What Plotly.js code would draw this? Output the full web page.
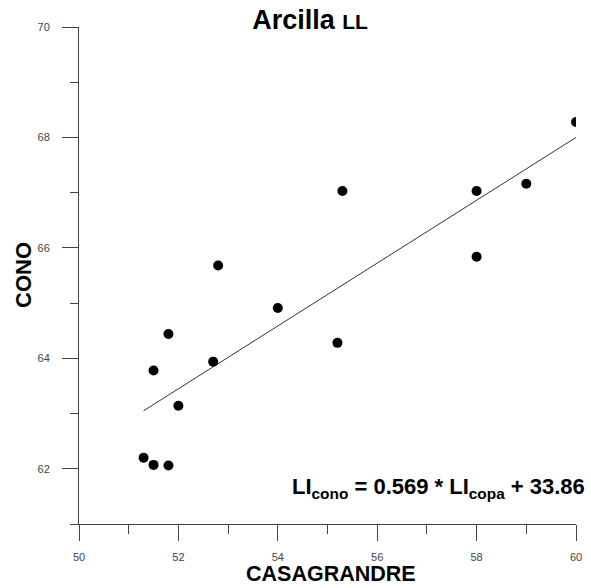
<!DOCTYPE html>
<html>
<head>
<meta charset="utf-8">
<script src="https://cdn.plot.ly/plotly-3.0.1.min.js"></script>
<style>html,body{margin:0;padding:0;background:#fff;}#chart{width:591px;height:588px;}</style>
</head>
<body>
<div id="chart"></div>
<script>
// Observed data (CASAGRANDRE vs CONO)
var casagrande = [51.3, 51.5, 51.8, 51.5, 51.8, 52.0, 52.7, 52.8, 54.0, 55.2, 55.3, 58.0, 58.0, 59.0, 60.0];
var cono       = [62.20, 62.07, 62.06, 63.78, 64.44, 63.14, 63.94, 65.68, 64.91, 64.28, 67.03, 67.03, 65.84, 67.16, 68.28];
// Regression line endpoints
var fitX = [51.3, 60.0];
var fitY = [63.05, 68.00];
var xTicks = [50, 52, 54, 56, 58, 60];
var yTicks = [62, 64, 66, 68, 70];

var FONT = 'Liberation Sans, Arial, sans-serif';
var axisColor = '#444';
var tickFont = {family: FONT, size: 11, color: '#444'};

var traces = [
  {x: fitX, y: fitY, mode: 'lines', type: 'scatter',
   line: {color: '#333', width: 1}, hoverinfo: 'skip'},
  {x: casagrande, y: cono, mode: 'markers', type: 'scatter',
   marker: {color: '#000', size: 10, line: {width: 0}}}
];

// plot area in pixels: left 79, right 576, top 27, bottom 524
var L = 79, R = 576, T = 27, B = 524;
function px(x) { return (x - L) / (R - L); }
function py(y) { return (B - y) / (B - T); }

var layout = {
  width: 591, height: 588,
  margin: {l: L, r: 591 - R, t: T, b: 588 - B, pad: 0},
  showlegend: false,
  paper_bgcolor: '#fff', plot_bgcolor: '#fff',
  title: {
    text: '<b>Arcilla</b> <b><span style="font-size:21px">LL</span></b>',
    font: {family: FONT, size: 27, color: '#000'},
    x: 310/591, xanchor: 'center', xref: 'container',
    y: 1 - 20/588, yanchor: 'middle', yref: 'container'
  },
  xaxis: {
    range: [50, 60], tickvals: xTicks, ticktext: xTicks.map(String),
    showgrid: false, zeroline: false, showline: true, linecolor: axisColor, linewidth: 1,
    ticks: 'outside', ticklen: 16, tickcolor: axisColor, tickwidth: 1,
    ticklabelstandoff: 7,
    minor: {dtick: 1, tick0: 51, ticks: 'outside', ticklen: 9, tickcolor: axisColor, tickwidth: 1, showgrid: false},
    tickfont: tickFont
  },
  yaxis: {
    range: [61, 70], tickvals: yTicks, ticktext: yTicks.map(String),
    showgrid: false, zeroline: false, showline: true, linecolor: axisColor, linewidth: 1,
    ticks: 'outside', ticklen: 16, tickcolor: axisColor, tickwidth: 1,
    ticklabelstandoff: 10,
    minor: {dtick: 1, tick0: 61, ticks: 'outside', ticklen: 8, tickcolor: axisColor, tickwidth: 1, showgrid: false},
    tickfont: tickFont
  },
  annotations: [
    {
      xref: 'paper', yref: 'paper', x: px(587), y: py(488), xanchor: 'right', yanchor: 'middle',
      showarrow: false,
      text: '<b>LI<sub>cono</sub> = 0.569 * LI<sub>copa</sub> + 33.86</b>',
      font: {family: FONT, size: 22, color: '#000'}
    },
    {
      xref: 'paper', yref: 'paper', x: px(331), y: py(587.5), xanchor: 'center', yanchor: 'bottom',
      showarrow: false, text: '<b>CASAGRANDRE</b>',
      font: {family: FONT, size: 21.5, color: '#000'}
    },
    {
      xref: 'paper', yref: 'paper', x: px(23), y: py(275), xanchor: 'center', yanchor: 'middle',
      showarrow: false, textangle: -90, text: '<b>CONO</b>',
      font: {family: FONT, size: 22, color: '#000'}
    }
  ]
};

Plotly.newPlot('chart', traces, layout, {displayModeBar: false, staticPlot: true});
</script>
</body>
</html>
